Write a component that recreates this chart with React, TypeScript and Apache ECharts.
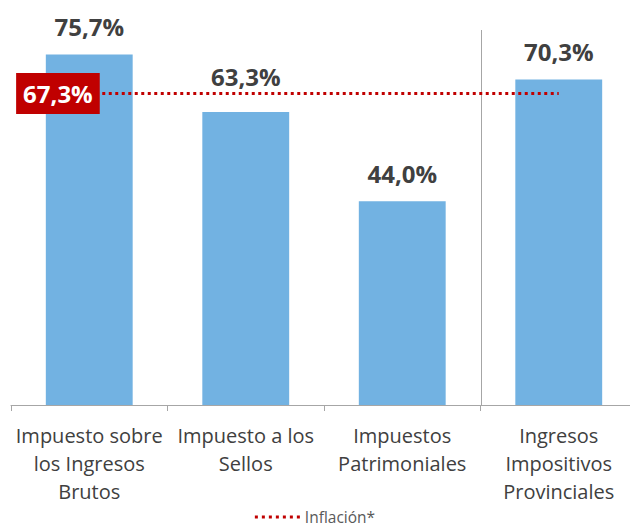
import React, { useEffect, useRef } from "react";
import * as echarts from "echarts";

const categories = [
  "Impuesto sobre\nlos Ingresos\nBrutos",
  "Impuesto a los\nSellos",
  "Impuestos\nPatrimoniales",
  "Ingresos\nImpositivos\nProvinciales",
];
const growthValues = [75.7, 63.3, 44.0, 70.3];
const inflationValue = 67.3;
const inflationName = "Inflación*";
const yMax = 81;
const separatorAfterIndex = 2; // vertical rule between 3rd and 4th category

const fmt = (v: number) => v.toFixed(1).replace(".", ",") + "%";

// dotted legend icon: 7 small squares
const dottedIcon =
  "path://" +
  Array.from({ length: 7 }, (_, i) => `M${i * 7},0h3v3h-3z`).join(" ");

export default function App() {
  const ref = useRef<HTMLDivElement>(null);
  useEffect(() => {
    if (!ref.current) return;
    const chart = echarts.init(ref.current, null, { renderer: "svg" });
    const font = "'Open Sans', 'Noto Sans', sans-serif";
    chart.setOption({
      animation: false,
      textStyle: { fontFamily: font },
      grid: {
        left: 11,
        width: 626,
        top: 30,
        bottom: 127,
        containLabel: false,
        outerBoundsMode: "none",
      },
      legend: {
        bottom: 2,
        left: "center",
        data: [{ name: inflationName, icon: dottedIcon, itemStyle: { color: "#c00000" } }],
        itemWidth: 45,
        itemHeight: 3,
        itemGap: 6,
        textStyle: { fontFamily: font, fontSize: 15.5, color: "#595959" },
      },
      xAxis: {
        type: "category",
        data: categories,
        axisLine: { lineStyle: { color: "#a6a6a6", width: 1 } },
        axisTick: { show: true, length: 6, lineStyle: { color: "#a6a6a6" } },
        axisLabel: {
          color: "#404040",
          fontFamily: font,
          fontSize: 20,
          lineHeight: 28,
          margin: 16,
          interval: 0,
        },
        splitLine: { show: false },
      },
      yAxis: {
        type: "value",
        min: 0,
        max: yMax,
        show: false,
        splitLine: { show: false },
      },
      series: [
        {
          type: "bar",
          data: growthValues.map((v, i) =>
            i === 1 ? { value: v, label: { distance: 23 } } : v
          ),
          barWidth: "55.5%",
          itemStyle: { color: "#72b2e2" },
          label: {
            show: true,
            position: "top",
            distance: 16,
            formatter: (p: any) => fmt(p.value),
            color: "#404040",
            fontWeight: "bold",
            fontSize: 24,
            fontFamily: font,
          },
          z: 2,
        },
        {
          type: "line",
          name: inflationName,
          data: categories.map(() => inflationValue),
          symbol: "none",
          lineStyle: { color: "#c00000", width: 3, type: [3, 3.5] },
          itemStyle: { color: "#c00000" },
          z: 5,
          label: { show: false },
          markPoint: {
            symbol: "rect",
            symbolSize: 1,
            itemStyle: { color: "rgba(0,0,0,0)" },
            data: [{ coord: [0, inflationValue], value: inflationValue }],
            label: {
              show: true,
              position: "left",
              distance: 0,
              offset: [11, 0],
              formatter: () => fmt(inflationValue),
              backgroundColor: "#c00000",
              color: "#ffffff",
              fontWeight: "bold",
              fontSize: 24,
              fontFamily: font,
              padding: [9, 7, 8, 7],
            },
            z: 10,
          },
        },
      ],
    });

    // vertical separator between categories, positioned through the axes
    const xa = chart.convertToPixel({ xAxisIndex: 0 }, separatorAfterIndex) as number;
    const xb = chart.convertToPixel({ xAxisIndex: 0 }, separatorAfterIndex + 1) as number;
    const yTop = chart.convertToPixel({ yAxisIndex: 0 }, yMax) as number;
    const yBottom = chart.convertToPixel({ yAxisIndex: 0 }, 0) as number;
    const sx = Math.round((xa + xb) / 2) + 0.5;
    chart.setOption({
      graphic: [
        {
          type: "line",
          shape: { x1: sx, y1: yTop, x2: sx, y2: yBottom },
          style: { stroke: "#a6a6a6", lineWidth: 1 },
          z: 1,
          silent: true,
        },
      ],
    });
    return () => chart.dispose();
  }, []);
  return (
    <div
      ref={ref}
      style={{ position: "fixed", left: 0, top: 0, width: 630, height: 532, background: "#fff" }}
    />
  );
}
